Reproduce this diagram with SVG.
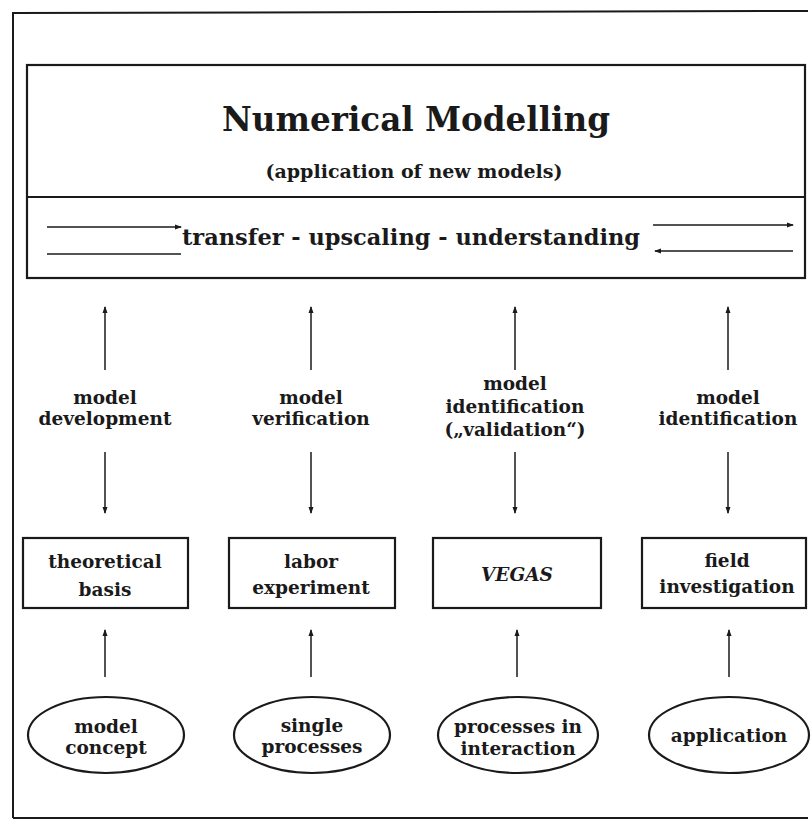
<svg xmlns="http://www.w3.org/2000/svg" width="811" height="821" viewBox="0 0 811 821">
<style>
text{font-family:"DejaVu Serif","Liberation Serif",serif;font-weight:bold;fill:#1a1a1a;text-anchor:middle}
.lbl{font-size:18.5px}
.box{fill:none;stroke:#1a1a1a;stroke-width:2.2}
.ln{stroke:#1a1a1a;stroke-width:1.5;fill:none}
.frame{stroke:#1a1a1a;stroke-width:2;fill:none}
</style>
<defs>
<marker id="ah" markerWidth="8" markerHeight="8" refX="6" refY="4" orient="auto" markerUnits="userSpaceOnUse">
<path d="M0,1.5 L7,4 L0,6.5 Z" fill="#1a1a1a"/>
</marker>
</defs>
<rect width="811" height="821" fill="#fff"/>
<path class="frame" d="M12,13 L808,11 M13,13 L13,818 M13,818 L808,818"/>

<g id="numerical-modelling">
<rect class="box" x="27" y="65" width="778" height="213"/>
<line class="ln" x1="27" y1="197" x2="805" y2="197" style="stroke-width:2.2"/>
<text x="416" y="131" style="font-size:34px" textLength="388" lengthAdjust="spacingAndGlyphs">Numerical Modelling</text>
<text x="414" y="178" style="font-size:19px" textLength="297" lengthAdjust="spacingAndGlyphs">(application of new models)</text>
<text x="411" y="245" style="font-size:23px" textLength="458" lengthAdjust="spacingAndGlyphs">transfer - upscaling - understanding</text>
</g>

<g id="connectors">
<line class="ln" x1="47" y1="227" x2="181" y2="227" marker-end="url(#ah)"/>
<line class="ln" x1="47" y1="254" x2="181" y2="254"/>
<line class="ln" x1="653" y1="225" x2="793" y2="225" marker-end="url(#ah)"/>
<line class="ln" x1="793" y1="251" x2="655" y2="251" marker-end="url(#ah)"/>

<line class="ln" x1="105" y1="370" x2="105" y2="307" marker-end="url(#ah)"/>
<line class="ln" x1="311" y1="370" x2="311" y2="307" marker-end="url(#ah)"/>
<line class="ln" x1="515" y1="370" x2="515" y2="307" marker-end="url(#ah)"/>
<line class="ln" x1="728" y1="370" x2="728" y2="307" marker-end="url(#ah)"/>

<line class="ln" x1="105" y1="452" x2="105" y2="513" marker-end="url(#ah)"/>
<line class="ln" x1="311" y1="452" x2="311" y2="513" marker-end="url(#ah)"/>
<line class="ln" x1="515" y1="452" x2="515" y2="513" marker-end="url(#ah)"/>
<line class="ln" x1="728" y1="452" x2="728" y2="513" marker-end="url(#ah)"/>

<line class="ln" x1="105" y1="677" x2="105" y2="630" marker-end="url(#ah)"/>
<line class="ln" x1="311" y1="677" x2="311" y2="630" marker-end="url(#ah)"/>
<line class="ln" x1="517" y1="677" x2="517" y2="630" marker-end="url(#ah)"/>
<line class="ln" x1="729" y1="677" x2="729" y2="630" marker-end="url(#ah)"/>
</g>

<g id="label-development">
<text class="lbl" x="105" y="404">model</text>
<text class="lbl" x="105" y="425">development</text>
</g>
<g id="label-verification">
<text class="lbl" x="311" y="404">model</text>
<text class="lbl" x="311" y="425">verification</text>
</g>
<g id="label-validation">
<text class="lbl" x="515" y="390">model</text>
<text class="lbl" x="515" y="413">identification</text>
<text class="lbl" x="515" y="436">(„validation“)</text>
</g>
<g id="label-identification">
<text class="lbl" x="728" y="404">model</text>
<text class="lbl" x="728" y="425">identification</text>
</g>

<g id="theoretical-basis">
<rect class="box" x="23" y="538" width="165" height="70"/>
<text class="lbl" x="105" y="568">theoretical</text>
<text class="lbl" x="105" y="596">basis</text>
</g>
<g id="labor-experiment">
<rect class="box" x="229" y="538" width="166" height="70"/>
<text class="lbl" x="311" y="568">labor</text>
<text class="lbl" x="311" y="594">experiment</text>
</g>
<g id="vegas">
<rect class="box" x="433" y="538" width="168" height="70"/>
<text class="lbl" x="517" y="581" font-style="italic">VEGAS</text>
</g>
<g id="field-investigation">
<rect class="box" x="642" y="538" width="164" height="70"/>
<text class="lbl" x="727" y="567">field</text>
<text class="lbl" x="727" y="593">investigation</text>
</g>

<g id="model-concept">
<ellipse class="box" cx="106" cy="735" rx="78" ry="38"/>
<text class="lbl" x="106" y="733">model</text>
<text class="lbl" x="106" y="754">concept</text>
</g>
<g id="single-processes">
<ellipse class="box" cx="312" cy="735" rx="78" ry="38"/>
<text class="lbl" x="312" y="732">single</text>
<text class="lbl" x="312" y="753">processes</text>
</g>
<g id="processes-interaction">
<ellipse class="box" cx="518" cy="735" rx="80" ry="38"/>
<text class="lbl" x="518" y="733">processes in</text>
<text class="lbl" x="518" y="755">interaction</text>
</g>
<g id="application">
<ellipse class="box" cx="729" cy="735" rx="80" ry="38"/>
<text class="lbl" x="729" y="742">application</text>
</g>
</svg>
